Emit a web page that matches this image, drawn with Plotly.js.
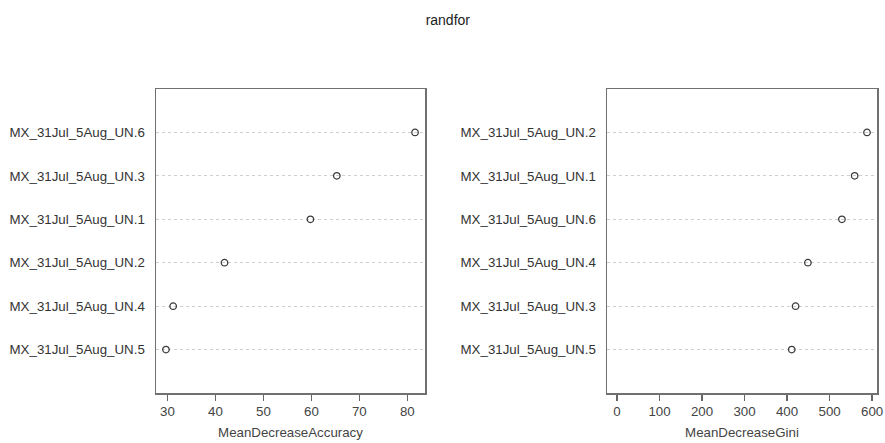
<!DOCTYPE html>
<html>
<head>
<meta charset="utf-8">
<script src="https://cdn.plot.ly/plotly-3.0.1.min.js"></script>
<style>html,body{margin:0;padding:0;background:#fff;}#chart{width:885px;height:443px;}</style>
</head>
<body>
<div id="chart"></div>
<script>
// Data (bottom to top, as drawn)
const accLabels = ['MX_31Jul_5Aug_UN.5','MX_31Jul_5Aug_UN.4','MX_31Jul_5Aug_UN.2','MX_31Jul_5Aug_UN.1','MX_31Jul_5Aug_UN.3','MX_31Jul_5Aug_UN.6'];
const accValues = [29.7, 31.2, 41.9, 59.8, 65.3, 81.6];
const giniLabels = ['MX_31Jul_5Aug_UN.5','MX_31Jul_5Aug_UN.3','MX_31Jul_5Aug_UN.4','MX_31Jul_5Aug_UN.6','MX_31Jul_5Aug_UN.1','MX_31Jul_5Aug_UN.2'];
const giniValues = [411, 420, 449, 529, 559, 588];
const accTicks = [30, 40, 50, 60, 70, 80];
const giniTicks = [0, 100, 200, 300, 400, 500, 600];

function ext(lo, hi){ const d = (hi - lo) * 0.04; return [lo - d, hi + d]; }
const accRange = ext(Math.min(...accValues), Math.max(...accValues));
const giniRange = ext(0, Math.max(...giniValues));

const marker = {symbol:'circle-open', size:6.5, color:'#3a3a3a', line:{width:1.3, color:'#3a3a3a'}};
const traces = [
  {x: accValues, y: accLabels, type:'scatter', mode:'markers', marker: marker, xaxis:'x', yaxis:'y', hoverinfo:'x+y'},
  {x: giniValues, y: giniLabels, type:'scatter', mode:'markers', marker: marker, xaxis:'x2', yaxis:'y2', hoverinfo:'x+y'}
];

const FS = 13.3;
const font = {family:'"Liberation Sans", Arial, sans-serif', size:FS, color:'#333'};
function xax(domain, range, ticks, title, anchor){
  return {domain: domain, range: range, tickvals: ticks, ticks:'outside', ticklen:6, tickwidth:1.2, tickcolor:'#666',
    showgrid:false, zeroline:false, showline:true, mirror:true, linecolor:'#707070', linewidth:1.5,
    tickfont:{family:font.family, size:FS, color:'#444'}, anchor: anchor,
    title:{text:title, font:{family:font.family, size:FS, color:'#444'}, standoff:9}};
}
function yax(domain, anchor){
  return {domain: domain, type:'category', range:[-1, 6], anchor: anchor,
    showgrid:true, gridcolor:'#cfcfcf', griddash:'dot', gridwidth:1,
    ticks:'', showline:true, mirror:true, linecolor:'#707070', linewidth:1.5, zeroline:false,
    ticklabelstandoff:7, tickfont:{family:font.family, size:FS, color:'#333'}};
}
const yd = [50/443, 354/443];
const layout = {
  width:885, height:443, margin:{l:0, r:0, t:0, b:0},
  paper_bgcolor:'#fff', plot_bgcolor:'#fff', showlegend:false, font: font,
  title:{text:'randfor', x:0.506, xanchor:'center', y:0.955, yanchor:'middle', font:{family:font.family, size:14, color:'#222'}},
  xaxis: xax([156/885, 425/885], accRange, accTicks, 'MeanDecreaseAccuracy', 'y'),
  yaxis: yax(yd, 'x'),
  xaxis2: xax([607/885, 877/885], giniRange, giniTicks, 'MeanDecreaseGini', 'y2'),
  yaxis2: yax(yd, 'x2')
};
Plotly.newPlot('chart', traces, layout, {displayModeBar:false, staticPlot:true});
</script>
</body>
</html>
